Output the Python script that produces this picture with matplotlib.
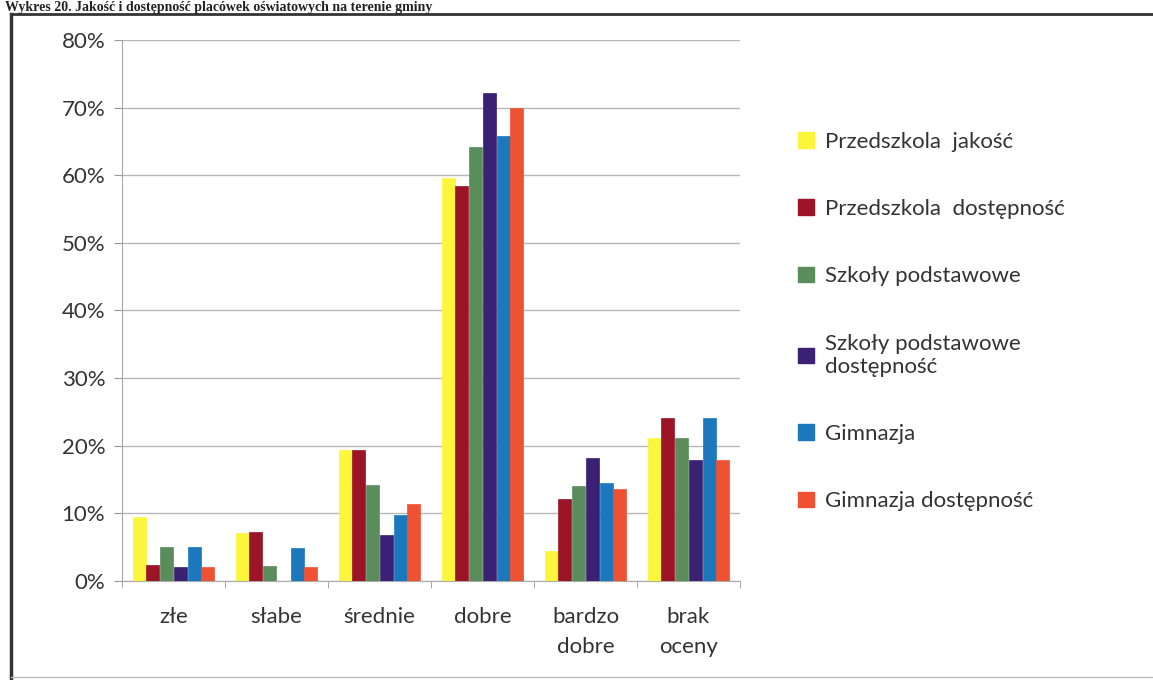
import matplotlib.pyplot as plt
from matplotlib.lines import Line2D
from matplotlib.patches import Patch
import numpy as np

plt.rcParams['font.family'] = ['Lato', 'DejaVu Sans']

categories = ["złe", "słabe", "średnie", "dobre", "bardzo\ndobre", "brak\noceny"]
series = ["Przedszkola  jakość", "Przedszkola  dostępność", "Szkoły podstawowe",
          "Szkoły podstawowe\ndostępność", "Gimnazja", "Gimnazja dostępność"]
przedszkola_jakosc = [9.5, 7.1, 19.3, 59.6, 4.5, 21.2]
przedszkola_dostepnosc = [2.4, 7.3, 19.3, 58.4, 12.1, 24.1]
szkoly_podstawowe = [5.0, 2.2, 14.2, 64.2, 14.1, 21.2]
szkoly_dostepnosc = [2.1, 0.0, 6.8, 72.2, 18.2, 17.9]
gimnazja = [5.0, 4.9, 9.8, 65.8, 14.5, 24.1]
gimnazja_dostepnosc = [2.1, 2.1, 11.4, 70.0, 13.6, 17.9]
colors = ["#fbf53c", "#9c1428", "#5b8c5c", "#3b2173", "#1b78bd", "#ee5233"]
values = [przedszkola_jakosc, przedszkola_dostepnosc, szkoly_podstawowe,
          szkoly_dostepnosc, gimnazja, gimnazja_dostepnosc]

fig = plt.figure(figsize=(11.53, 6.8), dpi=100)
ax = fig.add_axes([0.1058, 0.1456, 0.536, 0.7956])

x = np.arange(len(categories))
w = 0.8 / len(series)
for i, (vals, c) in enumerate(zip(values, colors)):
    ax.bar(x - 0.4 + w * (i + 0.5), vals, width=w * 0.95, color=c,
           edgecolor=c, linewidth=0.5, zorder=3)

ax.set_xlim(-0.5, len(categories) - 0.5)
ax.set_ylim(0, 80)
ax.set_yticks(range(0, 81, 10))
ax.set_yticklabels(["%d%%" % v for v in range(0, 81, 10)])
ax.set_xticks(x)
ax.set_xticklabels(categories, linespacing=1.6)
ax.set_xticks(np.arange(-0.5, len(categories)), minor=True)
ax.tick_params(axis='x', which='major', length=0, pad=19, labelsize=16, colors='#333333')
ax.tick_params(axis='x', which='minor', length=5, color='#999999')
ax.tick_params(axis='y', length=6, color='#999999', pad=6, labelsize=16, colors='#333333')
ax.grid(axis='y', color='#b8b8b8', linewidth=1, zorder=0)
for s in ['top', 'right']:
    ax.spines[s].set_visible(False)
ax.spines['left'].set_color('#aaaaaa')
ax.spines['bottom'].set_color('#aaaaaa')

handles = [Patch(facecolor=c, edgecolor=c) for c in colors]
leg = fig.legend(handles, series, loc='upper left', bbox_to_anchor=(0.675, 0.836),
                 frameon=False, fontsize=16, labelspacing=2.13, handlelength=0.7,
                 handleheight=0.7, handletextpad=0.5, labelcolor='#333333')

# outer frame
fig.add_artist(Line2D([0.0095, 0.0095], [0.0, 0.98], transform=fig.transFigure,
                      color='#333333', linewidth=2.5))
fig.add_artist(Line2D([0.0095, 1.0], [0.98, 0.98], transform=fig.transFigure,
                      color='#333333', linewidth=2))
fig.add_artist(Line2D([0.0095, 1.0], [0.004, 0.004], transform=fig.transFigure,
                      color='#bbbbbb', linewidth=1))

fig.text(0.004, 0.999, "Wykres 20. Jakość i dostępność placówek oświatowych na terenie gminy",
         family='Liberation Serif', fontweight='bold', fontsize=10, va='top', color='#222222')

fig.savefig("out.png", dpi=100)
